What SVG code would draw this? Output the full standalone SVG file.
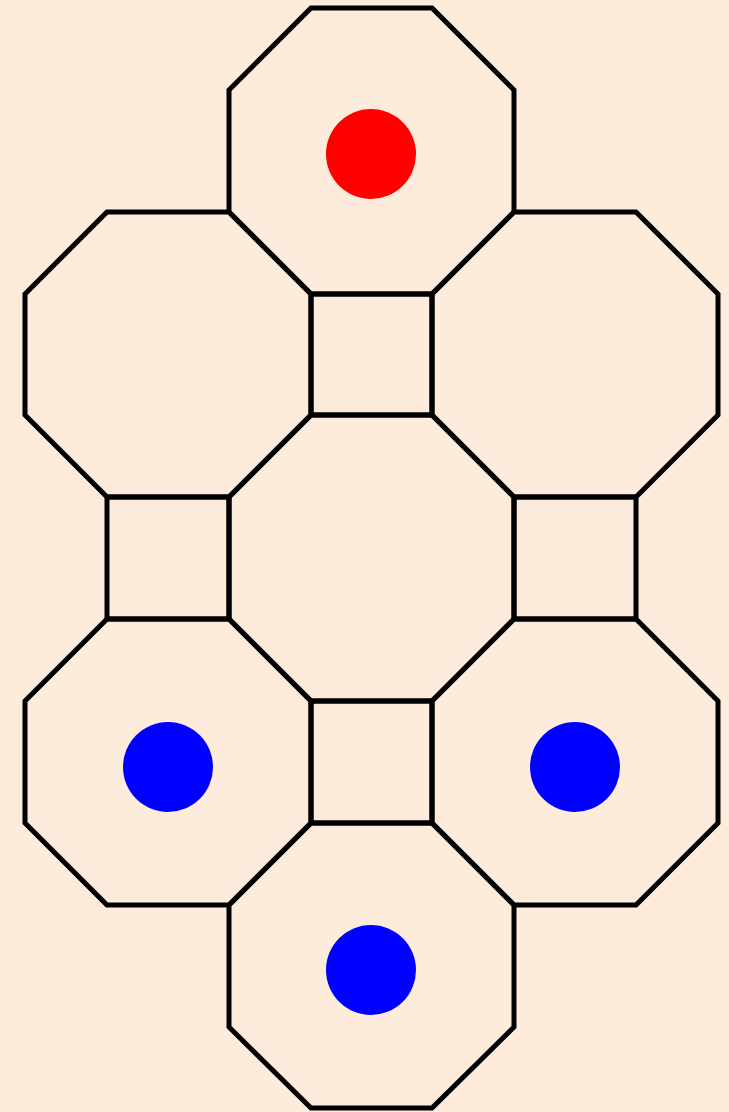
<svg xmlns="http://www.w3.org/2000/svg" width="729" height="1112" viewBox="0 0 729 1112">
<style>
.t{fill:none;stroke:#000;stroke-width:5;stroke-linejoin:miter}
.r{fill:#ff0000}
.b{fill:#0000ff}
</style>
<rect width="729" height="1112" fill="#fdebdb"/>
<g id="oct-top"><polygon class="t" points="311,8 432,8 514,90 514,212 432,294 311,294 229,212 229,90"/><circle class="r" cx="371" cy="154" r="45"/></g>
<g id="oct-upper-left"><polygon class="t" points="107,212 229,212 311,294 311,415 229,497 107,497 25,415 25,294"/></g>
<g id="oct-upper-right"><polygon class="t" points="514,212 636,212 718,294 718,415 636,497 514,497 432,415 432,294"/></g>
<g id="sq-top"><polygon class="t" points="311,294 432,294 432,415 311,415"/></g>
<g id="oct-center"><polygon class="t" points="311,415 432,415 514,497 514,619 432,701 311,701 229,619 229,497"/></g>
<g id="sq-left"><polygon class="t" points="107,497 229,497 229,619 107,619"/></g>
<g id="sq-right"><polygon class="t" points="514,497 636,497 636,619 514,619"/></g>
<g id="oct-lower-left"><polygon class="t" points="107,619 229,619 311,701 311,823 229,905 107,905 25,823 25,701"/><circle class="b" cx="168" cy="767" r="45"/></g>
<g id="oct-lower-right"><polygon class="t" points="514,619 636,619 718,701 718,823 636,905 514,905 432,823 432,701"/><circle class="b" cx="575" cy="767" r="45"/></g>
<g id="sq-bottom"><polygon class="t" points="311,701 432,701 432,823 311,823"/></g>
<g id="oct-bottom"><polygon class="t" points="311,823 432,823 514,905 514,1027 432,1108 311,1108 229,1027 229,905"/><circle class="b" cx="371" cy="970" r="45"/></g>
<g id="connectors"></g>
</svg>
